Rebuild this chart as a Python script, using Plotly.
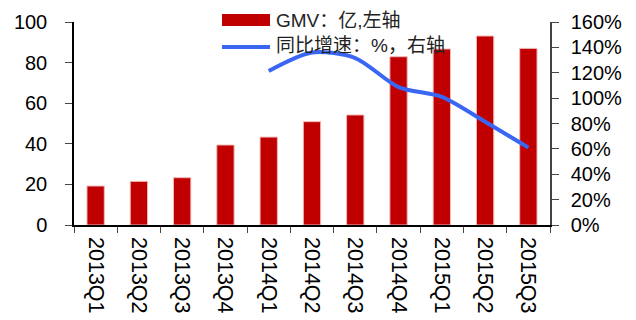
import plotly.graph_objects as go

categories = ["2013Q1", "2013Q2", "2013Q3", "2013Q4", "2014Q1", "2014Q2",
              "2014Q3", "2014Q4", "2015Q1", "2015Q2", "2015Q3"]
gmv = [19.2, 21.5, 23.3, 39.4, 43.3, 50.9, 54.2, 82.9, 86.7, 93.1, 87.0]
growth_cats = ["2014Q1", "2014Q2", "2014Q3", "2014Q4", "2015Q1", "2015Q2", "2015Q3"]
growth = [121.4, 136.0, 131.6, 108.7, 101.0, 81.4, 61.0]
left_ticks = [0, 20, 40, 60, 80, 100]
right_ticks = [0, 20, 40, 60, 80, 100, 120, 140, 160]

W, H = 636, 320
L, R, T, B = 74, 86, 22, 95
pw, ph = W - L - R, H - T - B

def px(x):
    return (x - L) / pw

def py(y):
    return (H - B - y) / ph

font = "Liberation Sans, Arial, Noto Sans CJK SC, sans-serif"

fig = go.Figure()
fig.add_trace(go.Bar(x=categories, y=gmv, marker=dict(color="#C00000",
                     line=dict(color="#F0B8B8", width=1)), width=0.4,
                     name="GMV：亿,左轴", showlegend=False))
fig.add_trace(go.Scatter(x=growth_cats, y=[g / 100 for g in growth], yaxis="y2",
                         mode="lines", line=dict(color="#3A66F4", width=4, shape="spline", smoothing=0.8),
                         name="同比增速：%，右轴", showlegend=False))

# manual legend
fig.add_shape(type="rect", xref="paper", yref="paper", x0=px(222), x1=px(270), y0=py(26), y1=py(14),
              fillcolor="#C00000", line=dict(width=0))
fig.add_shape(type="line", xref="paper", yref="paper", x0=px(222), x1=px(270), y0=py(47), y1=py(47),
              line=dict(color="#3A66F4", width=4))
fig.add_annotation(xref="paper", yref="paper", x=px(274), y=py(20), text="GMV：亿,左轴",
                   showarrow=False, xanchor="left", yanchor="middle",
                   font=dict(size=19, color="#222", family=font))
fig.add_annotation(xref="paper", yref="paper", x=px(274), y=py(46), text="同比增速：%，右轴",
                   showarrow=False, xanchor="left", yanchor="middle",
                   font=dict(size=19, color="#222", family=font))

fig.update_layout(
    width=W, height=H, margin=dict(l=L, r=R, t=T, b=B),
    plot_bgcolor="white", paper_bgcolor="white",
    font=dict(family=font, size=20, color="black"),
    xaxis=dict(type="category", tickson="boundaries", ticks="outside", ticklen=6,
               tickangle=90, showline=True, linecolor="black", linewidth=1.5,
               showgrid=False, tickfont=dict(size=21.5), range=[-0.5, 10.5],
               ticklabelstandoff=6, automargin=False),
    yaxis=dict(range=[0, 100], tickvals=left_ticks, ticks="outside", ticklen=7,
               showline=True, linecolor="black", linewidth=1.5, showgrid=False,
               zeroline=False, tickfont=dict(size=20), ticklabelstandoff=14,
               automargin=False),
    yaxis2=dict(range=[0, 1.6], tickvals=[t / 100 for t in right_ticks],
                ticktext=[f"{t}%" for t in right_ticks], overlaying="y", side="right",
                ticks="outside", ticklen=7, showline=True, linecolor="#444", linewidth=1.5,
                showgrid=False, zeroline=False, tickfont=dict(size=20), ticklabelstandoff=8,
                automargin=False),
)

fig.write_html("out.html")
